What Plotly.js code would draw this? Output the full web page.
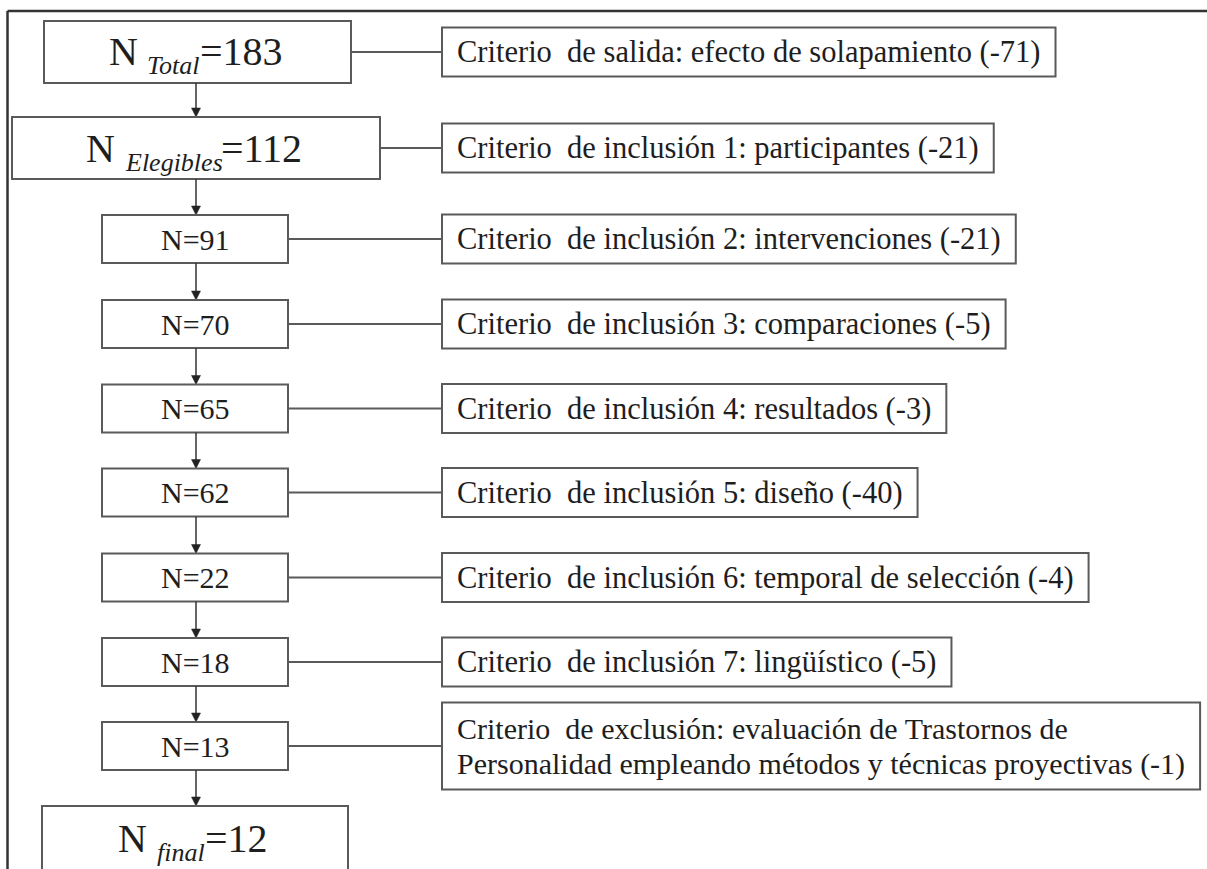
<!DOCTYPE html>
<html><head><meta charset="utf-8">
<script src="https://cdn.plot.ly/plotly-3.0.1.min.js"></script>
<style>html,body{margin:0;padding:0;background:#fff}</style>
</head><body><div id="chart" style="width:1207px;height:869px"></div>
<script>
// ---- data ----
const stageCounts = [183, 112, 91, 70, 65, 62, 22, 18, 13, 12];
const stageSubscripts = ['Total', 'Elegibles', '', '', '', '', '', '', '', 'final'];
const criteriaLabels = [
  ['Criterio\u00a0 de salida: efecto de solapamiento'],
  ['Criterio\u00a0 de inclusión 1: participantes'],
  ['Criterio\u00a0 de inclusión 2: intervenciones'],
  ['Criterio\u00a0 de inclusión 3: comparaciones'],
  ['Criterio\u00a0 de inclusión 4: resultados'],
  ['Criterio\u00a0 de inclusión 5: diseño'],
  ['Criterio\u00a0 de inclusión 6: temporal de selección'],
  ['Criterio\u00a0 de inclusión 7: lingüístico'],
  ['Criterio\u00a0 de exclusión: evaluación de Trastornos de',
   'Personalidad empleando métodos y técnicas proyectivas']
];
const removedCounts = [-71, -21, -21, -5, -3, -40, -4, -5, -1];

// ---- layout geometry (pixel-like axis units) ----
const W = 1207, H = 869;
const rowCenters = [52, 148, 239, 324, 408.5, 492.5, 577.5, 662, 746, 839];
const bigBaselines = {0: 65, 1: 162, 9: 852};
const bigBoxes = {0: [44, 351, 62], 1: [12, 380, 62], 9: [42, 348, 66]};
const smallBox = [102, 288, 48];
const arrowX = 196, headLen = 9, headHalf = 4.5;
const rightX0 = 442, rightPad = 15, rightH = 49, rightH2 = 87, lineGap = 35;
const FONT = 'Liberation Serif';
const BIG = 40, SUB = 26, SUBSHIFT = 9, SMALL = 30, RIGHT = 30.5, RIGHT2 = 30;
const boxColor = '#5a5a5a', textColor = '#1e1e1e';

const canvas = document.createElement('canvas');
const ctx = canvas.getContext('2d');
function measure(t, size, italic) {
  ctx.font = (italic ? 'italic ' : '') + size + 'px "Liberation Serif"';
  return ctx.measureText(t).width;
}
// centre of Plotly's text box sits this far above the baseline (Liberation Serif metrics)
const midAbove = s => s * (0.891 - 0.216) / 2;

const shapes = [], annotations = [];
function addText(x, y, text, size, italic, xanchor) {
  annotations.push({xref:'x', yref:'y', x:x, y:y, text:italic ? '<i>' + text + '</i>' : text,
    showarrow:false, xanchor:xanchor || 'left', yanchor:'middle', align:'left',
    borderpad:0, borderwidth:0, font:{family:FONT, size:size, color:textColor}});
}

// outer frame
shapes.push({type:'line', xref:'x', yref:'y', x0:7.5, x1:W + 5, y0:11, y1:11, line:{color:'#333', width:2.5}});
shapes.push({type:'line', xref:'x', yref:'y', x0:7.5, x1:7.5, y0:11, y1:H + 5, line:{color:'#333', width:2.5}});

const leftGeom = stageCounts.map((v, i) => {
  const g = bigBoxes[i] || smallBox;
  return {x0: g[0], x1: g[1], y0: rowCenters[i] - g[2] / 2, y1: rowCenters[i] + g[2] / 2};
});

stageCounts.forEach((v, i) => {
  const g = leftGeom[i];
  shapes.push({type:'rect', xref:'x', yref:'y', x0:g.x0, x1:g.x1, y0:g.y0, y1:g.y1,
    line:{color:boxColor, width:2}, fillcolor:'rgba(0,0,0,0)'});
  const sub = stageSubscripts[i];
  const cx = (g.x0 + g.x1) / 2 - 2;
  if (sub) {
    const base = bigBaselines[i];
    const p1 = 'N\u00a0', p3 = '=' + v;
    const w1 = measure(p1, BIG), w2 = measure(sub, SUB, true), w3 = measure(p3, BIG);
    let x = cx - (w1 + w2 + w3) / 2;
    addText(x, base - midAbove(BIG), p1, BIG);
    addText(x + w1, base + SUBSHIFT - midAbove(SUB), sub, SUB, true);
    addText(x + w1 + w2, base - midAbove(BIG), p3, BIG);
  } else {
    addText(cx + 2, rowCenters[i], 'N=' + v, SMALL, false, 'center');
  }
  if (i < stageCounts.length - 1) {
    const tip = leftGeom[i + 1].y0;
    shapes.push({type:'line', xref:'x', yref:'y', x0:arrowX, x1:arrowX, y0:g.y1, y1:tip - headLen + 1,
      line:{color:'#333', width:1.5}});
    shapes.push({type:'path', xref:'x', yref:'y',
      path:'M' + (arrowX - headHalf) + ',' + (tip - headLen) + ' L' + (arrowX + headHalf) + ',' + (tip - headLen) +
           ' L' + arrowX + ',' + tip + ' Z',
      fillcolor:'#222', line:{color:'#222', width:0.5}});
  }
});

criteriaLabels.forEach((lines, i) => {
  const full = lines.slice();
  full[full.length - 1] = full[full.length - 1] + ' (' + removedCounts[i] + ')';
  const size = full.length > 1 ? RIGHT2 : RIGHT;
  const w = Math.max(...full.map(t => measure(t, size)));
  const h = full.length > 1 ? rightH2 : rightH;
  const yc = rowCenters[i];
  shapes.push({type:'rect', xref:'x', yref:'y', x0:rightX0, x1:rightX0 + w + 2 * rightPad,
    y0:yc - h / 2, y1:yc + h / 2, line:{color:boxColor, width:2}, fillcolor:'rgba(0,0,0,0)'});
  shapes.push({type:'line', xref:'x', yref:'y', x0:leftGeom[i].x1, x1:rightX0, y0:yc, y1:yc,
    line:{color:boxColor, width:2}});
  full.forEach((t, k) => {
    const y = yc + (k - (full.length - 1) / 2) * lineGap;
    addText(rightX0 + rightPad, y, t, size);
  });
});

Plotly.newPlot('chart', [], {
  width: W, height: H,
  margin: {l:0, r:0, t:0, b:0},
  paper_bgcolor: '#fff', plot_bgcolor: '#fff',
  xaxis: {range:[0, W], visible:false, fixedrange:true},
  yaxis: {range:[H, 0], visible:false, fixedrange:true},
  shapes: shapes, annotations: annotations, showlegend:false
}, {staticPlot:true});
</script></body></html>
